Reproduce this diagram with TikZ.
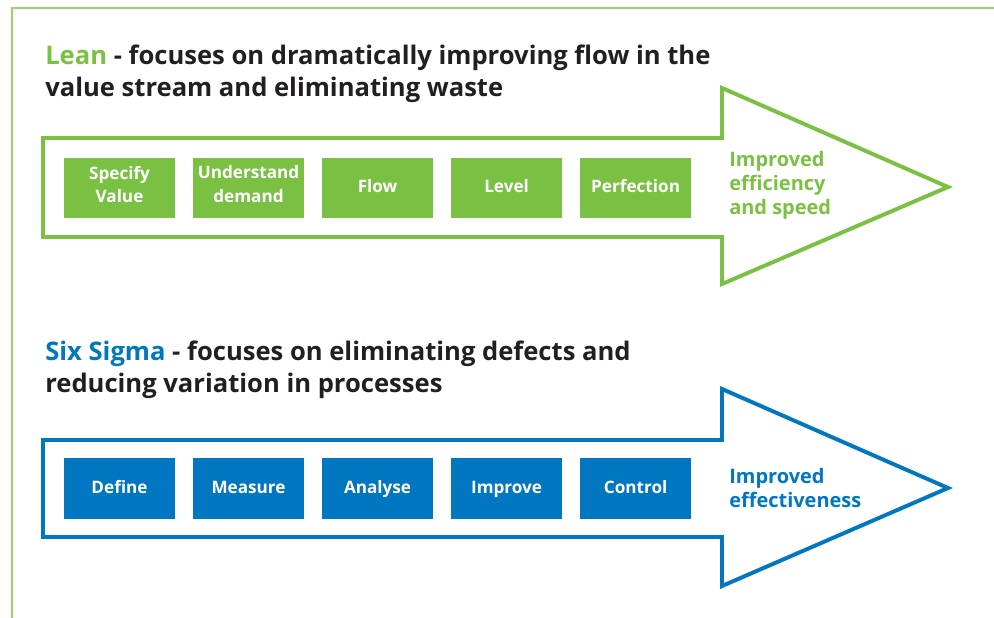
\documentclass[tikz,border=0pt]{standalone}
\usepackage{fontspec}
\setmainfont{Open Sans}
\usetikzlibrary{positioning}
\definecolor{leangreen}{HTML}{7AC143}
\definecolor{sigmablue}{HTML}{0077C0}
\definecolor{headgray}{HTML}{231F20}

\begin{document}
\begin{tikzpicture}[x=0.025cm, y=-0.025cm,
    stepbox/.style={minimum width=2.775cm, minimum height=1.5cm, inner sep=0pt, outer sep=0pt, align=center, text=white, font=\bfseries\fontsize{12.2}{17}\selectfont, execute at begin node=\strut},
    headline/.style={anchor=west, inner sep=0pt, align=left, text=headgray, font=\bfseries\fontsize{18.2}{22.8}\selectfont},
    outcome/.style={anchor=west, inner sep=0pt, align=left, font=\bfseries\fontsize{14.2}{17}\selectfont}]

    \useasboundingbox (0,0) rectangle (994,618);

    % Outer frame - thin light green line
    \draw[leangreen!75, line width=1.4pt] (994,8) -- (12,8) -- (12,618);

    % Lean - heading
    \node[headline] (leanhead) at (45,74) {\textcolor{leangreen}{Lean} - focuses on dramatically improving flow in the\\value stream and eliminating waste};

    % Lean - outline arrow
    \draw[leangreen, line width=2.8pt] (43,138) -- (722,138) -- (722,88) -- (948,187) -- (722,284) -- (722,237) -- (43,237) -- cycle;

    % Lean - steps
    \node[stepbox, fill=leangreen] (specify) at (119.5,188) {Specify\\Value};
    \node[stepbox, fill=leangreen, right=0.45cm of specify] (understand) {Understand\\demand};
    \node[stepbox, fill=leangreen, right=0.45cm of understand] (flow) {Flow};
    \node[stepbox, fill=leangreen, right=0.45cm of flow] (level) {Level};
    \node[stepbox, fill=leangreen, right=0.45cm of level] (perfection) {Perfection};
    \node[outcome, text=leangreen] (leanout) at (729,185) {Improved\\efficiency\\and speed};

    % Six Sigma - heading
    \node[headline] (sigmahead) at (45,370) {\textcolor{sigmablue}{Six Sigma} - focuses on eliminating defects and\\reducing variation in processes};

    % Six Sigma - outline arrow
    \draw[sigmablue, line width=2.8pt] (43,440) -- (722,440) -- (722,389) -- (948,488) -- (722,586) -- (722,537) -- (43,537) -- cycle;

    % Six Sigma - steps
    \node[stepbox, fill=sigmablue] (define) at (119.5,488.5) {Define};
    \node[stepbox, fill=sigmablue, right=0.45cm of define] (measure) {Measure};
    \node[stepbox, fill=sigmablue, right=0.45cm of measure] (analyse) {Analyse};
    \node[stepbox, fill=sigmablue, right=0.45cm of analyse] (improve) {Improve};
    \node[stepbox, fill=sigmablue, right=0.45cm of improve] (control) {Control};
    \node[outcome, text=sigmablue] (sigmaout) at (729,488) {Improved\\effectiveness};

\end{tikzpicture}
\end{document}
